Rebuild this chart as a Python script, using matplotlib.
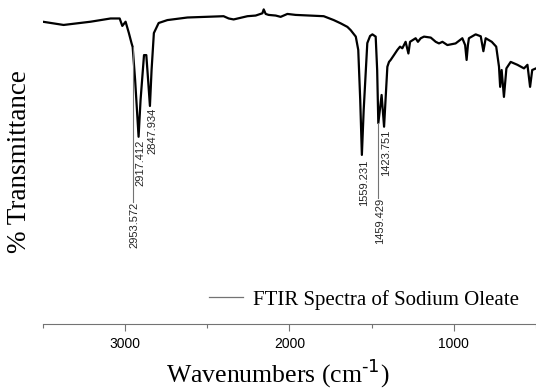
import matplotlib
matplotlib.use("Agg")
import matplotlib.pyplot as plt
from matplotlib.lines import Line2D

# FTIR spectrum of sodium oleate
wavenumber = [3500, 3373, 3209, 3087, 3032, 3016, 2996, 2976, 2960, 2953,
              2938, 2917, 2905, 2884, 2870, 2859, 2848, 2838, 2824, 2795,
              2742, 2620, 2400, 2369, 2339, 2255, 2205, 2164, 2156, 2144,
              2126, 2083, 2053, 2012, 1962, 1791, 1730, 1688, 1647, 1627,
              1596, 1581, 1569, 1559, 1548, 1526, 1509, 1495, 1475, 1466,
              1459, 1439, 1424, 1404, 1394, 1384, 1364, 1343, 1327, 1313,
              1293, 1276, 1266, 1232, 1218, 1201, 1181, 1140, 1110, 1090,
              1069, 1039, 989, 948, 931, 922, 914, 908, 867, 836,
              820, 806, 769, 742, 725, 718, 709, 695, 680, 654,
              613, 573, 552, 536, 523, 500]
transmittance = [93.3, 92.3, 93.3, 94.3, 94.3, 92.0, 93.3, 89.8, 86.7, 85.5,
                 75.3, 57.8, 69.1, 83.0, 83.0, 75.3, 67.3, 78.4, 89.8, 92.9,
                 93.8, 94.6, 95.0, 94.3, 94.0, 95.0, 95.2, 95.9, 97.1, 95.7,
                 95.4, 95.2, 94.8, 95.7, 95.4, 95.0, 93.8, 92.8, 91.7, 90.7,
                 88.7, 84.6, 69.1, 52.2, 66.0, 86.7, 88.9, 89.4, 88.7, 78.4,
                 62.0, 70.7, 60.9, 79.4, 80.9, 81.5, 83.0, 84.6, 85.6, 85.1,
                 87.1, 83.5, 87.1, 88.2, 87.1, 88.2, 88.7, 88.4, 87.1, 86.6,
                 87.1, 86.1, 86.6, 88.2, 86.1, 81.5, 86.1, 88.2, 89.4, 88.8,
                 84.2, 88.2, 87.1, 85.6, 79.4, 73.2, 78.4, 70.1, 78.9, 80.9,
                 80.0, 78.9, 80.0, 73.2, 78.4, 78.9]

# peak labels: position, text, where the label starts, curve value at the peak
peak_pos = [2953.572, 2917.412, 2847.934, 1559.231, 1459.429, 1423.751]
peak_text = ["2953.572", "2917.412", "2847.934", "1559.231", "1459.429", "1423.751"]
label_top = [37.7, 56.8, 66.7, 50.6, 38.9, 59.9]
peak_value = [85.5, 57.8, 67.3, 52.2, 62.0, 60.9]

serif = "Liberation Serif"
sans = "Liberation Sans"

fig = plt.figure(figsize=(5.36, 3.90), dpi=100)
ax = fig.add_axes([0.0797, 0.169, 0.9203, 0.831])

ax.plot(wavenumber, transmittance, color="black", lw=1.6)

for pos, txt, top, val in zip(peak_pos, peak_text, label_top, peak_value):
    # leader line only where the label sits well below the curve
    if val - top > 5:
        ax.plot([pos, pos], [val, top], color="0.45", lw=0.8)
    ax.annotate(txt, xy=(pos, top), xytext=(1.5, 0), textcoords="offset points",
                rotation=90, ha="center", va="top", fontsize=8,
                family=sans, color="0.15")

ax.set_xlim(3500, 500)
ax.set_ylim(0, 100)

for side in ["top", "right", "left"]:
    ax.spines[side].set_visible(False)
ax.spines["bottom"].set_color("0.45")
ax.spines["bottom"].set_linewidth(0.8)

ax.set_xticks([3000, 2000, 1000])
ax.set_xticks([3500, 2500, 1500, 500], minor=True)
ax.tick_params(axis="x", which="major", length=5, width=0.8, color="0.45",
               labelsize=10, pad=4)
ax.tick_params(axis="x", which="minor", length=3, width=0.8, color="0.45")
for lbl in ax.get_xticklabels():
    lbl.set_family(sans)
ax.set_yticks([])

plt.rcParams["mathtext.fontset"] = "custom"
plt.rcParams["mathtext.rm"] = serif
ax.set_xlabel("Wavenumbers (cm$^{\\text{-1}}$)", family=serif, fontsize=18.5)
ax.xaxis.set_label_coords(0.477, -0.1)
ax.set_ylabel("% Transmittance", family=serif, fontsize=19.5)
ax.yaxis.set_label_coords(-0.022, 0.5)

handle = Line2D([], [], color="0.45", lw=0.9)
ax.legend([handle], ["FTIR Spectra of Sodium Oleate"], loc="lower right",
          bbox_to_anchor=(0.966, 0.045), frameon=False, borderpad=0,
          borderaxespad=0, handlelength=1.6, handletextpad=0.5,
          prop={"family": serif, "size": 15})

fig.savefig("out.png", dpi=100)
